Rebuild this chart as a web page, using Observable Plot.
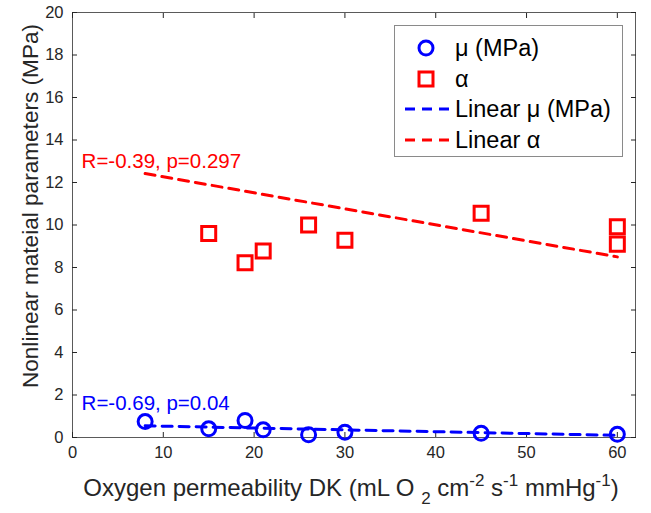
<!DOCTYPE html>
<html>
<head>
<meta charset="utf-8">
<script src="https://cdn.jsdelivr.net/npm/d3@7"></script>
<script src="https://cdn.jsdelivr.net/npm/@observablehq/plot@0.6"></script>
<style>
  html, body { margin: 0; padding: 0; background: #fff; }
  #wrap { position: relative; width: 651px; height: 513px; font-family: "Liberation Sans", Arial, sans-serif; }
  #legend { position: absolute; left: 394px; top: 25px; width: 227px; height: 130px; border: 1px solid #8a8a8a; background: #fff; }
  .row { position: absolute; left: 0; height: 30px; width: 100%; }
  .row svg { position: absolute; left: 8px; top: 0; }
  .row span { position: absolute; left: 60px; top: 1px; font-size: 23.5px; line-height: 28px; color: #000; white-space: nowrap; }
  #xlabel { position: absolute; left: 36px; width: 630px; top: 474px; text-align: center; font-size: 24px; line-height: 27px; color: #262626; white-space: nowrap; }
  #xlabel sub { font-size: 17px; vertical-align: baseline; position: relative; top: 8px; }
  #xlabel sup { font-size: 17px; vertical-align: baseline; position: relative; top: -10px; }
</style>
</head>
<body>
<div id="wrap">
  <div id="chart"></div>
  <div id="legend"></div>
  <div id="xlabel">Oxygen permeability DK (mL O <sub>2</sub> cm<sup>-2</sup> s<sup>-1</sup> mmHg<sup>-1</sup>)</div>
</div>
<script>
// Data
const dkMu = [8, 15, 19, 21, 26, 30, 45, 60];
const muValues = [0.75, 0.41, 0.8, 0.36, 0.13, 0.25, 0.2, 0.15];
const dkAlpha = [15, 19, 21, 26, 30, 45, 60, 60];
const alphaValues = [9.6, 8.22, 8.78, 10.0, 9.28, 10.55, 9.92, 9.1];
const fitX = [8, 60];
const muFit = [0.55, 0.1];
const alphaFit = [12.42, 8.5];
const xTicks = [0, 10, 20, 30, 40, 50, 60];
const yTicks = [0, 2, 4, 6, 8, 10, 12, 14, 16, 18, 20];
const muAnnotation = "R=-0.69, p=0.04";
const alphaAnnotation = "R=-0.39, p=0.297";
const annotationX = 1.0;
const muAnnotationY = 1.6;
const alphaAnnotationY = 13.0;
const yLabel = "Nonlinear mateial parameters (MPa)";

const BLUE = "#0000ff", RED = "#ff0000", AXIS = "#262626", FRAME = "#5a5a5a";

const muPts = dkMu.map((x, i) => ({x, y: muValues[i]}));
const alphaPts = dkAlpha.map((x, i) => ({x, y: alphaValues[i]}));
const muLine = fitX.map((x, i) => ({x, y: muFit[i]}));
const alphaLine = fitX.map((x, i) => ({x, y: alphaFit[i]}));

const chart = Plot.plot({
  width: 651,
  height: 513,
  marginLeft: 72,
  marginRight: 16,
  marginTop: 12,
  marginBottom: 76,
  style: {fontFamily: "'Liberation Sans', Arial, sans-serif", background: "#fff", overflow: "visible"},
  x: {domain: [0, 62]},
  y: {domain: [0, 20]},
  marks: [
    Plot.frame({stroke: FRAME, strokeWidth: 1}),
    Plot.axisX(xTicks, {anchor: "bottom", tickSize: 0, tickPadding: 9, fontSize: 16.5, fill: AXIS, label: null}),
    Plot.axisX(xTicks, {anchor: "bottom", tickSize: -5, tickFormat: () => "", stroke: AXIS, label: null}),
    Plot.axisX(xTicks, {anchor: "top", tickSize: -5, tickFormat: () => "", stroke: AXIS, label: null}),
    Plot.axisY(yTicks, {anchor: "left", tickSize: 0, tickPadding: 9, fontSize: 16.5, fill: AXIS, label: null}),
    Plot.axisY(yTicks, {anchor: "left", tickSize: -5, tickFormat: () => "", stroke: AXIS, label: null}),
    Plot.axisY(yTicks, {anchor: "right", tickSize: -5, tickFormat: () => "", stroke: AXIS, label: null}),
    Plot.text([yLabel], {frameAnchor: "left", dx: -42, dy: -19, rotate: -90, textAnchor: "middle", fontSize: 22.6, fill: AXIS, text: d => d}),
    Plot.line(alphaLine, {x: "x", y: "y", stroke: RED, strokeWidth: 3, strokeDasharray: "10,7"}),
    Plot.line(muLine, {x: "x", y: "y", stroke: BLUE, strokeWidth: 3, strokeDasharray: "10,7"}),
    Plot.dot(alphaPts, {x: "x", y: "y", symbol: "square", r: 7.9, stroke: RED, strokeWidth: 3, fill: "none"}),
    Plot.dot(muPts, {x: "x", y: "y", symbol: "circle", r: 7, stroke: BLUE, strokeWidth: 3, fill: "none"}),
    Plot.text([alphaAnnotation], {x: () => annotationX, y: () => alphaAnnotationY, text: d => d, textAnchor: "start", fill: RED, fontSize: 20.5}),
    Plot.text([muAnnotation], {x: () => annotationX, y: () => muAnnotationY, text: d => d, textAnchor: "start", fill: BLUE, fontSize: 20.5})
  ]
});
document.getElementById("chart").appendChild(chart);

// Legend
const legendItems = [
  {label: "μ (MPa)", kind: "circle", color: BLUE},
  {label: "α", kind: "square", color: RED},
  {label: "Linear μ (MPa)", kind: "line", color: BLUE},
  {label: "Linear α", kind: "line", color: RED}
];
const legend = document.getElementById("legend");
legendItems.forEach((item, i) => {
  const row = document.createElement("div");
  row.className = "row";
  row.style.top = (7 + i * 30.7) + "px";
  let sym = "";
  if (item.kind === "circle") sym = `<circle cx="23" cy="15" r="7" fill="none" stroke="${item.color}" stroke-width="3"/>`;
  else if (item.kind === "square") sym = `<rect x="16" y="8" width="14" height="14" fill="none" stroke="${item.color}" stroke-width="3"/>`;
  else sym = `<line x1="2" y1="15" x2="50" y2="15" stroke="${item.color}" stroke-width="3" stroke-dasharray="10,7"/>`;
  row.innerHTML = `<svg width="52" height="30">${sym}</svg><span>${item.label}</span>`;
  legend.appendChild(row);
});
</script>
</body>
</html>
